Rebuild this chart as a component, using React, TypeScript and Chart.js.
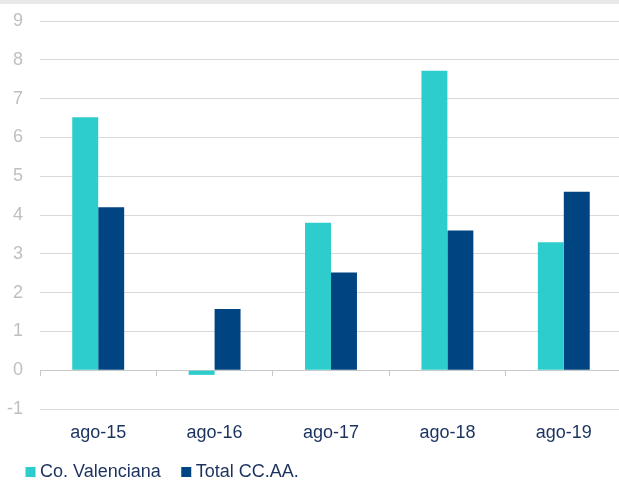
import React, { useEffect, useRef } from "react";
import { Chart, registerables } from "chart.js";

Chart.register(...registerables);

const categories = ["ago-15", "ago-16", "ago-17", "ago-18", "ago-19"];
const valenciana = [6.52, -0.12, 3.8, 7.72, 3.3];
const totalCCAA = [4.2, 1.58, 2.52, 3.6, 4.6];
const seriesNames = ["Co. Valenciana", "Total CC.AA."];
const yMin = -1;
const yMax = 9;
const yStep = 1;

const FONT = "'Liberation Sans', Arial, Helvetica, sans-serif";
const AQUA = "#2DCCCD";
const NAVY = "#004481";
const TEXT = "#1B325F";

const legendPlacer = {
  id: "legendPlacer",
  afterLayout(chart: any) {
    const lg = chart.legend;
    if (!lg) return;
    const h = lg.height;
    lg.top = 438;
    lg.bottom = lg.top + h;
  },
};

export default function App() {
  const ref = useRef<HTMLCanvasElement | null>(null);

  useEffect(() => {
    if (!ref.current) return;
    const chart = new Chart(ref.current, {
      type: "bar",
      data: {
        labels: categories,
        datasets: [
          {
            label: seriesNames[0],
            data: valenciana,
            backgroundColor: AQUA,
            borderWidth: 0,
            xAxisID: "x",
            yAxisID: "y",
            categoryPercentage: 0.446,
            barPercentage: 1,
          },
          {
            label: seriesNames[1],
            data: totalCCAA,
            backgroundColor: NAVY,
            borderWidth: 0,
            xAxisID: "x",
            yAxisID: "y",
            categoryPercentage: 0.446,
            barPercentage: 1,
          },
        ],
      },
      plugins: [legendPlacer],
      options: {
        responsive: false,
        animation: false,
        devicePixelRatio: 1,
        layout: { padding: { left: 5, right: 0, top: 21, bottom: 0 } },
        plugins: {
          tooltip: { enabled: false },
          legend: {
            position: "bottom",
            align: "start",
            labels: {
              usePointStyle: true,
              pointStyle: "rect",
              boxWidth: 1,
              boxHeight: 10,
              padding: 25,
              color: TEXT,
              font: { family: FONT, size: 18 },
            },
          },
        },
        scales: {
          x: {
            type: "category",
            position: "bottom",
            offset: true,
            grid: { display: false, drawTicks: false, offset: true },
            border: { display: false },
            ticks: {
              color: TEXT,
              font: { family: FONT, size: 18 },
              padding: 13,
              maxRotation: 0,
              autoSkip: false,
            },
            afterFit: (axis: any) => {
              axis.height = 40;
            },
          },
          x2: {
            type: "category",
            position: { y: 0 } as any,
            offset: true,
            grid: {
              display: true,
              drawOnChartArea: false,
              drawTicks: true,
              tickLength: 5,
              offset: true,
              color: "#C8C8C8",
            },
            border: { display: true, color: "#C8C8C8", width: 1 },
            ticks: { display: false },
          },
          y: {
            type: "linear",
            min: yMin,
            max: yMax,
            ticks: {
              stepSize: yStep,
              color: "#BFBFBF",
              font: { family: FONT, size: 18 },
              padding: 0,
            },
            grid: {
              color: "#D9D9D9",
              drawTicks: true,
              tickLength: 17,
              tickColor: "rgba(0,0,0,0)",
              lineWidth: 1,
            },
            border: { display: false },
            afterFit: (axis: any) => {
              axis.width = 35;
            },
          },
        },
      },
    });
    return () => chart.destroy();
  }, []);

  return (
    <div
      style={{
        position: "fixed",
        left: 0,
        top: 0,
        width: 619,
        height: 481,
        overflow: "hidden",
        background: "#ffffff",
      }}
    >
      <canvas
        ref={ref}
        width={622}
        height={502}
        style={{ position: "absolute", left: 0, top: 0, width: 622, height: 502 }}
      />
      <div
        style={{
          position: "absolute",
          left: 0,
          top: 0,
          width: 619,
          height: 4,
          background: "#E8E8E8",
        }}
      />
    </div>
  );
}
